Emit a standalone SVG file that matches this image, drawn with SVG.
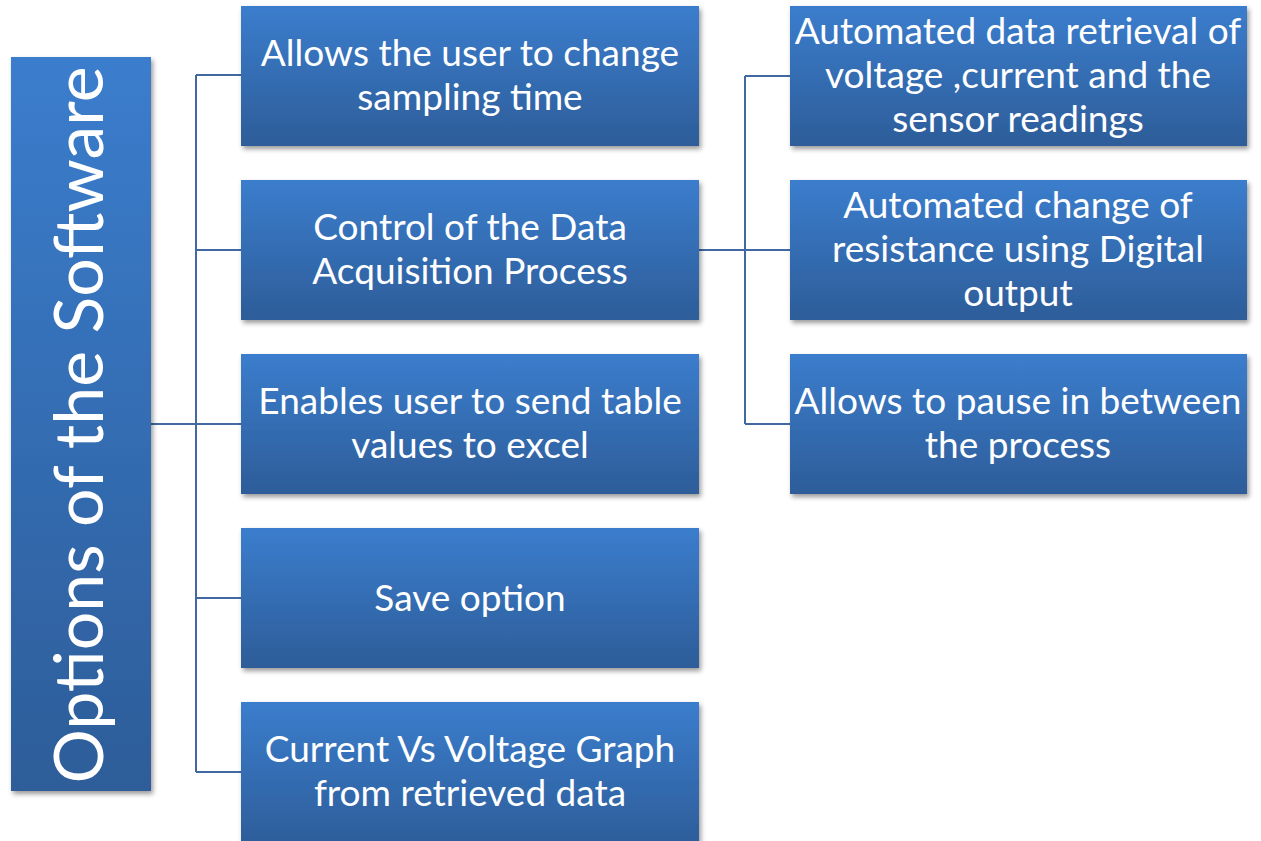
<svg xmlns="http://www.w3.org/2000/svg" width="1261" height="841" viewBox="0 0 1261 841">
  <defs>
    <linearGradient id="boxFill" x1="0" y1="0" x2="0" y2="1">
      <stop offset="0" stop-color="#3B7DCD"/>
      <stop offset="1" stop-color="#2D5D99"/>
    </linearGradient>
    <filter id="shadow" x="-10%" y="-10%" width="125%" height="130%">
      <feDropShadow dx="2" dy="3" stdDeviation="2.5" flood-color="#000" flood-opacity="0.4"/>
    </filter>
    <style>
      .box { fill: url(#boxFill); filter: url(#shadow); }
      .lbl { fill: #FFFFFF; font-family: Lato, "Open Sans", sans-serif; font-size: 37px; text-anchor: middle; }
      .title { fill: #FFFFFF; font-family: Lato, "Open Sans", sans-serif; font-size: 68px; text-anchor: middle; }
      .conn { fill: none; stroke: #4168A0; stroke-width: 2; }
    </style>
  </defs>

  <rect width="1261" height="841" fill="#FFFFFF"/>

  <!-- connectors -->
  <g id="connectors">
    <path class="conn" d="M151 424 H196 M196 75 V772 M196 75 H241 M196 250 H241 M196 424 H241 M196 598 H241 M196 772 H241"/>
    <path class="conn" d="M699 250 H745 M745 76 V424 M745 76 H790 M745 250 H790 M745 424 H790"/>
  </g>

  <!-- root -->
  <g id="root">
    <rect class="box" x="11" y="57" width="140" height="734"/>
    <text class="title" transform="translate(81,425) rotate(-90)" x="0" y="22">Options of the Software</text>
  </g>

  <!-- first level -->
  <g id="sampling">
    <rect class="box" x="241" y="6" width="458" height="140"/>
    <text class="lbl" x="470" y="66">Allows the user to change</text>
    <text class="lbl" x="470" y="110">sampling time</text>
  </g>
  <g id="control">
    <rect class="box" x="241" y="180" width="458" height="140"/>
    <text class="lbl" x="470" y="240">Control of the Data</text>
    <text class="lbl" x="470" y="284">Acquisition Process</text>
  </g>
  <g id="excel">
    <rect class="box" x="241" y="354" width="458" height="140"/>
    <text class="lbl" x="470" y="414">Enables user to send table</text>
    <text class="lbl" x="470" y="458">values to excel</text>
  </g>
  <g id="save">
    <rect class="box" x="241" y="528" width="458" height="140"/>
    <text class="lbl" x="470" y="611">Save option</text>
  </g>
  <g id="graph">
    <rect class="box" x="241" y="702" width="458" height="145"/>
    <text class="lbl" x="470" y="762">Current Vs Voltage Graph</text>
    <text class="lbl" x="470" y="806">from retrieved data</text>
  </g>

  <!-- second level -->
  <g id="retrieval">
    <rect class="box" x="790" y="6" width="457" height="140"/>
    <text class="lbl" x="1018" y="44">Automated data retrieval of</text>
    <text class="lbl" x="1018" y="88">voltage ,current and the</text>
    <text class="lbl" x="1018" y="132">sensor readings</text>
  </g>
  <g id="resistance">
    <rect class="box" x="790" y="180" width="457" height="140"/>
    <text class="lbl" x="1018" y="218">Automated change of</text>
    <text class="lbl" x="1018" y="262">resistance using Digital</text>
    <text class="lbl" x="1018" y="306">output</text>
  </g>
  <g id="pause">
    <rect class="box" x="790" y="354" width="457" height="140"/>
    <text class="lbl" x="1018" y="414">Allows to pause in between</text>
    <text class="lbl" x="1018" y="458">the process</text>
  </g>
</svg>
